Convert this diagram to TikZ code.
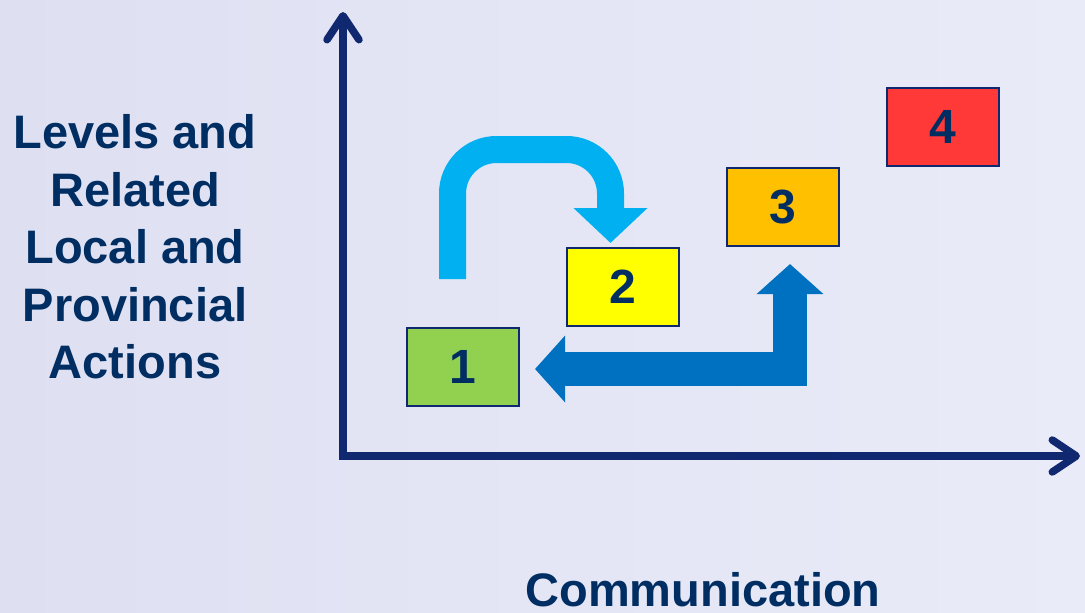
\documentclass[tikz,border=0pt]{standalone}
\usepackage{fontspec}
\setmainfont{Liberation Sans}
\usetikzlibrary{arrows.meta}
\definecolor{navytext}{RGB}{0,46,98}
\definecolor{axisblue}{RGB}{16,40,112}
\definecolor{bgleft}{RGB}{222,224,242}
\definecolor{bgright}{RGB}{234,235,248}
\definecolor{skyarrow}{RGB}{0,176,240}
\definecolor{deeparrow}{RGB}{0,112,192}
\definecolor{stagegreen}{RGB}{146,208,80}
\definecolor{stageyellow}{RGB}{255,255,0}
\definecolor{stageorange}{RGB}{255,192,0}
\definecolor{stagered}{RGB}{255,56,56}

\begin{document}
\begin{tikzpicture}[x=1pt,y=-1pt,
	stagebox/.style={draw=axisblue, line width=1.5pt, minimum width=112pt, minimum height=78pt,
		inner sep=0pt, text=navytext, font=\fontsize{48}{50}\selectfont\bfseries},
	axisline/.style={axisblue, line width=7.5pt, -{Straight Barb[length=24pt,width=32pt,round]}},
	biglabel/.style={text=navytext, align=center, font=\fontsize{47}{57.5}\selectfont\bfseries}]
	\useasboundingbox (0,0) rectangle (1085,613);
	\shade[left color=bgleft, right color=bgright] (0,0) rectangle (1085,613);

	% axes
	\coordinate (o) at (343,456);
	\coordinate (ytip) at (343,12);
	\coordinate (xtip) at (1080,456);
	\draw[axisline, shorten <=-3.75pt] (o) -- (ytip);
	\draw[axisline] (o) -- (xtip);

	\node[biglabel] (ylab) at (135,247) {Levels and\\Related\\Local and\\Provincial\\Actions};
	\node[biglabel, anchor=base, inner sep=0pt] (xlab) at (703,606) {Communication};

	% stages
	\foreach \i/\col in {1/stagegreen,2/stageyellow,3/stageorange,4/stagered}
		\node[stagebox, fill=\col] (b\i) at ({463+160*(\i-1)},{367-80*(\i-1)}) {\i};

	% arrows
	\coordinate (s1) at (452.5,279);
	\coordinate (t2) at (610.5,243);
	\draw[skyarrow, line width=27pt, rounded corners=44pt, -{Triangle[length=35pt,width=72pt]}]
		(s1) -- (452.5,149.5) -- (610.5,149.5) -- (t2);

	\coordinate (t1) at (535,369);
	\coordinate (t3) at (790,264);
	\draw[deeparrow, line width=34pt, {Triangle[length=30pt,width=65pt]}-{Triangle[length=30pt,width=65pt]}]
		(t1) -| (t3);
\end{tikzpicture}
\end{document}
